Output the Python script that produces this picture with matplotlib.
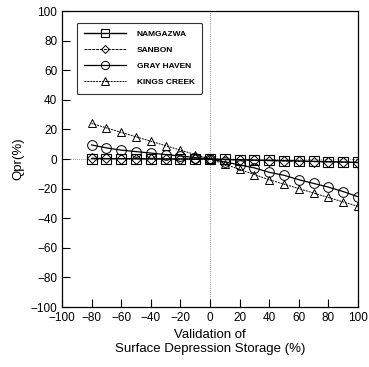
import matplotlib
matplotlib.use("Agg")
import matplotlib.pyplot as plt

plt.rcParams['font.family'] = ['Liberation Sans', 'DejaVu Sans']

x = [-80, -70, -60, -50, -40, -30, -20, -10, 0, 10, 20, 30, 40, 50, 60, 70, 80, 90, 100]
namgazwa = [0.3, 0.2, 0.2, 0.1, 0.1, 0.0, 0.0, 0.0, 0.0, -0.3, -0.5, -0.7, -0.9, -1.1, -1.3, -1.6, -1.8, -2.0, -2.3]
sanbon = [0.5, 0.4, 0.3, 0.3, 0.2, 0.1, 0.1, 0.0, 0.0, -0.4, -0.7, -1.0, -1.2, -1.4, -1.6, -1.8, -2.0, -2.2, -2.5]
gray_haven = [9.5, 7.5, 6.0, 5.0, 4.0, 3.0, 2.0, 1.0, 0.0, -2.0, -4.0, -6.0, -9.0, -11.0, -14.0, -16.5, -19.0, -22.0, -25.5]
kings_creek = [24.0, 21.0, 18.0, 15.0, 12.0, 9.0, 6.0, 3.0, 0.0, -3.5, -7.0, -10.5, -14.0, -17.0, -20.0, -23.0, -26.0, -29.0, -32.0]
labels = ['NAMGAZWA', 'SANBON', 'GRAY HAVEN', 'KINGS CREEK']
ticks = [-100, -80, -60, -40, -20, 0, 20, 40, 60, 80, 100]

fig = plt.figure(figsize=(3.69, 3.67), dpi=100)
ax = fig.add_axes([62/369, 1-307/367, 296/369, 296/367])

ax.axhline(0, color='0.45', lw=0.6, ls=(0, (1, 1.5)), zorder=1)
ax.axvline(0, color='0.45', lw=0.6, ls=(0, (1, 1.5)), zorder=1)

ax.plot(x, namgazwa, color='black', lw=1.0, ls='-', marker='s', ms=7, mfc='none', mec='black', mew=0.8, label=labels[0], zorder=3)
ax.plot(x, sanbon, color='black', lw=0.7, ls=(0, (3, 1)), marker='D', ms=5, mfc='none', mec='black', mew=0.7, label=labels[1], zorder=3)
ax.plot(x, gray_haven, color='black', lw=0.9, ls='-', marker='o', ms=7, mfc='none', mec='black', mew=0.7, label=labels[2], zorder=3)
ax.plot(x, kings_creek, color='black', lw=0.7, ls=(0, (2, 1)), marker='^', ms=6, mfc='none', mec='black', mew=0.7, label=labels[3], zorder=3)

ax.set_xlim(-100, 100)
ax.set_ylim(-100, 100)
ax.set_xticks(ticks)
ax.set_yticks(ticks)
ax.tick_params(direction='in', length=6, width=0.8, labelsize=8.5, top=False, right=False)
for s in ax.spines.values():
    s.set_linewidth(0.9)

ax.set_ylabel('Qpr(%)', fontsize=9.5, labelpad=4)
ax.set_xlabel('Validation of\nSurface Depression Storage (%)', fontsize=9.5, labelpad=4, linespacing=1.2)

leg = ax.legend(loc='upper left', bbox_to_anchor=(0.035, 0.975), fontsize=6, frameon=True,
                fancybox=True, edgecolor='black', handlelength=5, borderpad=0.9,
                labelspacing=1.0, handletextpad=1.3, markerscale=0.85)
leg.get_frame().set_linewidth(0.8)
for t in leg.get_texts():
    t.set_fontweight('bold')

fig.savefig('out.png', dpi=100)
